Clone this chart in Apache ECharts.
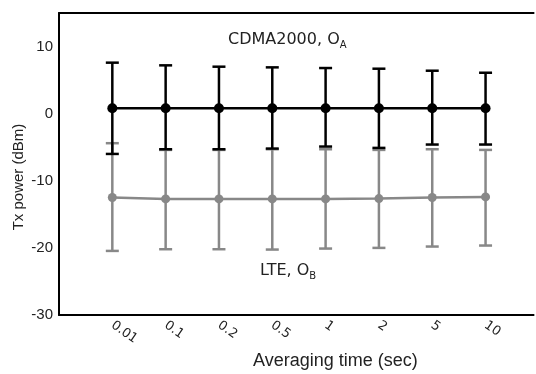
<!DOCTYPE html>
<html>
<head>
<meta charset="utf-8">
<script src="https://cdn.jsdelivr.net/npm/echarts@6/dist/echarts.min.js"></script>
<style>
  html, body { margin: 0; padding: 0; background: #fff; }
  #chart { width: 536px; height: 374px; }
</style>
</head>
<body>
<div id="chart"></div>
<script>
const categories = ["0.01", "0.1", "0.2", "0.5", "1", "2", "5", "10"];

const cdmaMean = [0.8, 0.8, 0.8, 0.8, 0.8, 0.8, 0.8, 0.8];
const cdmaHigh = [7.6, 7.2, 7.0, 6.9, 6.8, 6.7, 6.4, 6.1];
const cdmaLow = [-6.0, -5.3, -5.3, -5.2, -4.9, -5.1, -4.6, -4.6];

const lteMean = [-12.5, -12.7, -12.7, -12.7, -12.7, -12.65, -12.5, -12.4];
const lteHigh = [-4.4, -5.4, -5.4, -5.3, -5.3, -5.4, -5.3, -5.4];
const lteLow = [-20.45, -20.2, -20.2, -20.25, -20.1, -20.0, -19.8, -19.65];

const yTicks = [-30, -20, -10, 0, 10];

const black = "#000000";
const gray = "#888888";
const labelFont = "Liberation Sans";
const noteFont = "DejaVu Sans";

// the plot box runs a little past the right edge of the picture
const xMax = 8.9;

function points(values) {
  return values.map((v, i) => [i + 1, v]);
}

function errorRows(low, high) {
  return low.map((v, i) => [i + 1, v, high[i]]);
}

function errorBars(name, rows, color) {
  return {
    name,
    type: "custom",
    data: rows,
    silent: true,
    renderItem: (params, api) => {
      const x = api.value(0);
      const lo = api.coord([x, api.value(1)]);
      const hi = api.coord([x, api.value(2)]);
      const half = 6.5;
      const style = { stroke: color, lineWidth: 2.5 };
      return {
        type: "group",
        children: [
          { type: "line", shape: { x1: lo[0], y1: lo[1], x2: hi[0], y2: hi[1] }, style },
          { type: "line", shape: { x1: hi[0] - half, y1: hi[1], x2: hi[0] + half, y2: hi[1] }, style },
          { type: "line", shape: { x1: lo[0] - half, y1: lo[1], x2: lo[0] + half, y2: lo[1] }, style }
        ]
      };
    }
  };
}

function meanLine(name, values, color, size) {
  return {
    name,
    type: "line",
    data: points(values),
    symbol: "circle",
    symbolSize: size,
    itemStyle: { color },
    lineStyle: { color, width: 2.5 },
    silent: true
  };
}

const chart = echarts.init(document.getElementById("chart"), null, { renderer: "canvas" });

chart.setOption({
  animation: false,
  grid: { left: 59, right: 0, top: 13, bottom: 59 },
  xAxis: [
    {
      type: "value",
      min: 0,
      max: xMax,
      interval: 1,
      axisLine: { show: true, onZero: false, lineStyle: { color: black, width: 2 } },
      axisTick: { show: false },
      splitLine: { show: false },
      axisLabel: {
        rotate: -35,
        margin: 9,
        color: "#222",
        fontFamily: noteFont,
        fontSize: 13,
        formatter: (v) => (Number.isInteger(v) && categories[v - 1]) || ""
      }
    },
    {
      type: "value",
      position: "top",
      min: 0,
      max: xMax,
      axisLine: { show: true, onZero: false, lineStyle: { color: black, width: 2 } },
      axisTick: { show: false },
      axisLabel: { show: false },
      splitLine: { show: false }
    }
  ],
  yAxis: {
    type: "value",
    min: yTicks[0],
    max: 15,
    interval: 10,
    axisLine: { show: true, onZero: false, lineStyle: { color: black, width: 2 } },
    axisTick: { show: false },
    splitLine: { show: false },
    axisLabel: {
      showMaxLabel: false,
      margin: 6,
      color: "#222",
      fontFamily: labelFont,
      fontSize: 15,
      padding: [3, 0, 0, 0]
    }
  },
  graphic: [
    {
      type: "text",
      left: 253,
      top: 352,
      style: { text: "Averaging time (sec)", fill: "#222", font: "18px " + labelFont }
    },
    {
      type: "text",
      x: 19,
      y: 177,
      rotation: Math.PI / 2,
      style: {
        text: "Tx power (dBm)",
        fill: "#222",
        font: "15px " + labelFont,
        align: "center",
        verticalAlign: "middle"
      }
    },
    {
      type: "text",
      left: 228,
      top: 32,
      style: {
        text: "{a|CDMA2000, O}{s|A}",
        rich: {
          a: { fontFamily: noteFont, fontSize: 16, fill: "#222" },
          s: { fontFamily: noteFont, fontSize: 10, fill: "#222", padding: [10, 0, 0, 0] }
        }
      }
    },
    {
      type: "text",
      left: 260,
      top: 263,
      style: {
        text: "{a|LTE, O}{s|B}",
        rich: {
          a: { fontFamily: noteFont, fontSize: 16, fill: "#222" },
          s: { fontFamily: noteFont, fontSize: 10, fill: "#222", padding: [10, 0, 0, 0] }
        }
      }
    }
  ],
  series: [
    errorBars("LTE range", errorRows(lteLow, lteHigh), gray),
    meanLine("LTE", lteMean, gray, 9),
    errorBars("CDMA2000 range", errorRows(cdmaLow, cdmaHigh), black),
    meanLine("CDMA2000", cdmaMean, black, 10)
  ]
});
</script>
</body>
</html>
